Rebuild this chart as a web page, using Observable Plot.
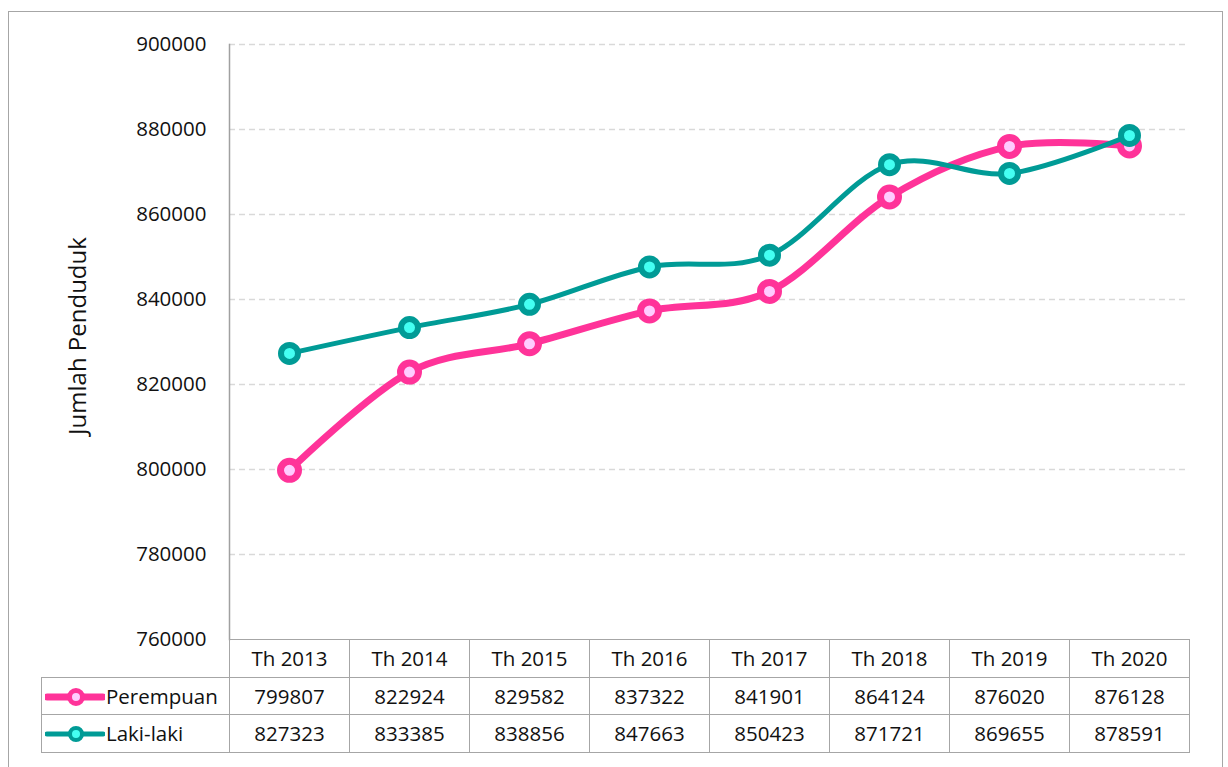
<!DOCTYPE html>
<html>
<head>
<meta charset="utf-8">
<script src="https://cdn.jsdelivr.net/npm/d3@7"></script>
<script src="https://cdn.jsdelivr.net/npm/@observablehq/plot@0.6"></script>
<style>
  html, body { margin: 0; padding: 0; background: #fff; overflow: hidden; }
  #wrap { position: relative; width: 1228px; height: 767px; font-family: "Open Sans", sans-serif; color: #111; }
  #outer { position: absolute; left: 8px; top: 11px; width: 1215px; height: 800px; border: 1.5px solid #A6A6A6; box-sizing: border-box; }
  #chart { position: absolute; left: 0; top: 0; }
  #tbl { position: absolute; left: 41px; top: 639px; border-collapse: collapse; table-layout: fixed; font-size: 20.5px; }
  #tbl td { border: 1.5px solid #A6A6A6; height: 36.5px; padding: 0; text-align: center; white-space: nowrap; line-height: 1; }
  #tbl td.blank { border-top: none; border-left: none; }
  #tbl td.leg { text-align: left; }
  #tbl td.leg svg { vertical-align: middle; margin-left: 3px; margin-right: 1px; }
  #tbl td.leg span { vertical-align: middle; }
</style>
</head>
<body>
<div id="wrap">
  <div id="outer"></div>
  <div id="chart"></div>
  <table id="tbl"></table>
</div>
<script>
const years = ["Th 2013", "Th 2014", "Th 2015", "Th 2016", "Th 2017", "Th 2018", "Th 2019", "Th 2020"];
const perempuan = [799807, 822924, 829582, 837322, 841901, 864124, 876020, 876128];
const lakilaki = [827323, 833385, 838856, 847663, 850423, 871721, 869655, 878591];
const yTicks = [760000, 780000, 800000, 820000, 840000, 860000, 880000, 900000];
const seriesNames = ["Perempuan", "Laki-laki"];
const yLabel = "Jumlah Penduduk";

const pink = "#FF3399", pinkFill = "#FFCCFF";
const teal = "#009B96", tealFill = "#44FFF2";

const dP = years.map((k, i) => ({year: k, value: perempuan[i]}));
const dL = years.map((k, i) => ({year: k, value: lakilaki[i]}));

const chart = Plot.plot({
  width: 1228,
  height: 640,
  marginLeft: 229,
  marginRight: 39,
  marginTop: 44,
  marginBottom: 1,
  style: {fontFamily: "Open Sans, sans-serif", fontSize: "20.5px", color: "#111", background: "transparent", overflow: "visible"},
  x: {type: "point", domain: years, padding: 0.5, axis: null},
  y: {domain: [yTicks[0], yTicks[yTicks.length - 1]], axis: null},
  marks: [
    Plot.gridY(yTicks.slice(1), {stroke: "#D9D9D9", strokeOpacity: 1, strokeWidth: 1.3, strokeDasharray: "6,4"}),
    Plot.axisY(yTicks, {tickSize: 0, tickPadding: 23, tickFormat: d3.format("d"), fontSize: 20.5, label: null}),
    Plot.frame({anchor: "left", stroke: "#A0A0A0", strokeWidth: 1.5}),
    Plot.text([yLabel], {frameAnchor: "left", textAnchor: "middle", dx: -151, dy: -6, rotate: -90, fontSize: 24}),
    Plot.line(dP, {x: "year", y: "value", curve: "cardinal", stroke: pink, strokeWidth: 7, strokeLinejoin: "round", strokeLinecap: "round"}),
    Plot.dot(dP, {x: "year", y: "value", r: 9, stroke: pink, strokeWidth: 7, fill: pinkFill}),
    Plot.line(dL, {x: "year", y: "value", curve: "cardinal", stroke: teal, strokeWidth: 5, strokeLinejoin: "round", strokeLinecap: "round"}),
    Plot.dot(dL, {x: "year", y: "value", r: 8.5, stroke: teal, strokeWidth: 6, fill: tealFill})
  ]
});
document.getElementById("chart").appendChild(chart);

// data table (legend + values) below the plot
const tbl = d3.select("#tbl");
const cg = tbl.append("colgroup");
cg.append("col").style("width", "188px");
years.forEach(() => cg.append("col").style("width", "120px"));

const head = tbl.append("tr");
head.append("td").attr("class", "blank");
years.forEach(y => head.append("td").text(y));

const rows = [
  {name: seriesNames[0], vals: perempuan, stroke: pink, fill: pinkFill, lw: 7, r: 6.5, sw: 5},
  {name: seriesNames[1], vals: lakilaki, stroke: teal, fill: tealFill, lw: 5, r: 6, sw: 4}
];
rows.forEach(s => {
  const tr = tbl.append("tr");
  const td = tr.append("td").attr("class", "leg");
  const svg = td.append("svg").attr("width", 60).attr("height", 22);
  svg.append("line").attr("x1", 2).attr("x2", 58).attr("y1", 11).attr("y2", 11)
    .attr("stroke", s.stroke).attr("stroke-width", s.lw).attr("stroke-linecap", "round");
  svg.append("circle").attr("cx", 31).attr("cy", 11).attr("r", s.r)
    .attr("fill", s.fill).attr("stroke", s.stroke).attr("stroke-width", s.sw);
  td.append("span").text(s.name);
  s.vals.forEach(v => tr.append("td").text(v));
});
</script>
</body>
</html>
